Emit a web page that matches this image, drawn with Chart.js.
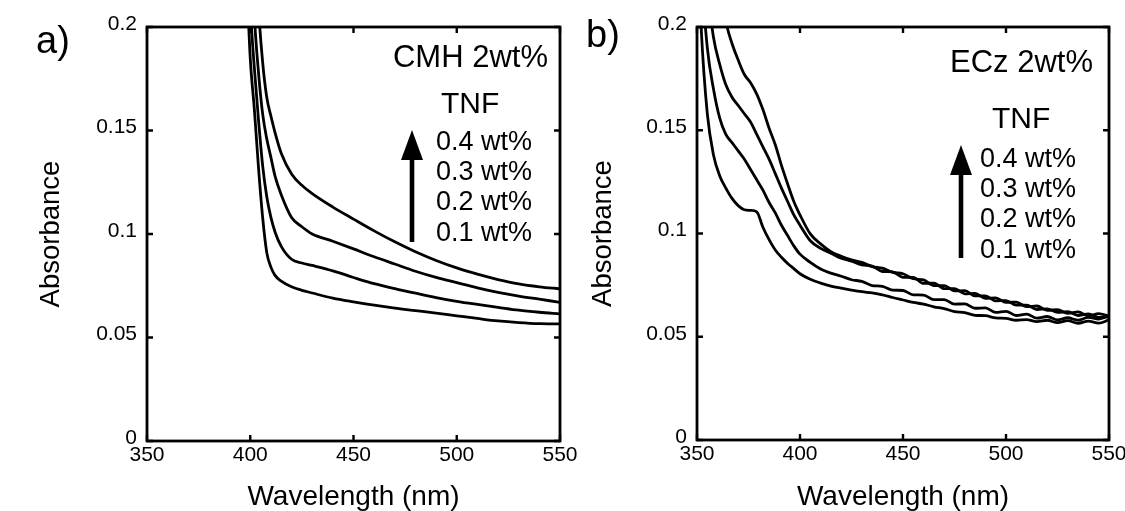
<!DOCTYPE html>
<html>
<head>
<meta charset="utf-8">
<script src="https://cdn.jsdelivr.net/npm/chart.js@4.4.1/dist/chart.umd.min.js"></script>
<style>
  html, body { margin: 0; padding: 0; background: #fff; }
  #wrap { position: relative; width: 1125px; height: 511px; }
  #wrap canvas { position: absolute; left: 0; top: 0; }
</style>
</head>
<body>
<div id="wrap">
  <canvas id="chartA" width="1125" height="511"></canvas>
  <canvas id="chartB" width="1125" height="511"></canvas>
</div>
<script>
// axis ticks
const xTicks = [350, 400, 450, 500, 550];
const yTicks = [0, 0.05, 0.1, 0.15, 0.2];
const yTickLabels = ['0', '0.05', '0.1', '0.15', '0.2'];
const tnfLabels = ['0.1 wt%', '0.2 wt%', '0.3 wt%', '0.4 wt%'];

// a) CMH 2wt% film
const cmhWavelength = [398, 400, 402, 404, 406, 408, 410, 412, 415, 420, 425, 430, 440, 450, 460, 470, 480, 490, 500, 510, 520, 530, 540, 550];
const cmh01 = [0.23, 0.185, 0.16, 0.132, 0.108, 0.091, 0.084, 0.080, 0.0772, 0.0745, 0.0728, 0.0715, 0.069, 0.0672, 0.0656, 0.0642, 0.063, 0.0618, 0.0605, 0.0592, 0.058, 0.0572, 0.0567, 0.0566];
const cmh02 = [0.26, 0.21, 0.18, 0.155, 0.133, 0.118, 0.108, 0.101, 0.094, 0.0878, 0.086, 0.0848, 0.0822, 0.079, 0.076, 0.0736, 0.0714, 0.0693, 0.0675, 0.066, 0.0646, 0.0632, 0.0622, 0.0614];
const cmh03 = [0.30, 0.25, 0.205, 0.178, 0.158, 0.146, 0.137, 0.128, 0.119, 0.108, 0.1035, 0.100, 0.0965, 0.0928, 0.089, 0.0855, 0.082, 0.079, 0.0765, 0.074, 0.0718, 0.070, 0.0685, 0.067];
const cmh04 = [0.40, 0.32, 0.26, 0.21, 0.183, 0.166, 0.157, 0.149, 0.139, 0.129, 0.1235, 0.1195, 0.113, 0.1072, 0.1015, 0.0962, 0.0914, 0.0872, 0.0836, 0.0806, 0.078, 0.0759, 0.0745, 0.0735];

// b) ECz 2wt% film
const eczWavelength = [350, 352, 355, 358, 361, 364, 367, 370, 373, 376, 379, 382, 385, 388, 391, 394, 397,
  400, 405, 410, 415, 420, 425, 430, 435, 440, 445, 450, 455, 460, 465, 470, 475, 480, 485, 490, 495, 500, 505, 510, 515, 520, 525, 530, 535, 540, 545, 550];
const ecz01 = [0.25, 0.20, 0.158, 0.138, 0.128, 0.122, 0.117, 0.1135, 0.1115, 0.1112, 0.1105, 0.103, 0.097, 0.092, 0.0885, 0.0855, 0.083,
  0.0805, 0.0778, 0.076, 0.0745, 0.0735, 0.0726, 0.0718, 0.0712, 0.0703, 0.069, 0.0678, 0.0666, 0.0658, 0.0645, 0.0636, 0.0622, 0.0617, 0.0604, 0.0602, 0.0591, 0.0589, 0.0580, 0.0583, 0.0573, 0.0580, 0.0568, 0.0578, 0.0565, 0.0576, 0.0566, 0.0582, 0.0585];
const ecz02 = [0.28, 0.23, 0.19, 0.170, 0.156, 0.148, 0.144, 0.140, 0.136, 0.131, 0.126, 0.121, 0.115, 0.110, 0.104, 0.099, 0.094,
  0.090, 0.086, 0.0828, 0.0808, 0.0793, 0.0776, 0.0768, 0.0748, 0.0744, 0.0726, 0.0724, 0.0703, 0.0702, 0.0680, 0.0680, 0.0658, 0.0659, 0.0638, 0.0640, 0.0618, 0.0623, 0.0603, 0.0610, 0.0590, 0.0598, 0.0582, 0.0592, 0.0580, 0.0594, 0.0586, 0.060];
const ecz03 = [0.30, 0.26, 0.22, 0.195, 0.182, 0.172, 0.166, 0.162, 0.158, 0.154, 0.148, 0.142, 0.136, 0.129, 0.122, 0.1155, 0.109,
  0.104, 0.0965, 0.0928, 0.0905, 0.088, 0.0866, 0.0848, 0.0842, 0.0816, 0.0814, 0.0788, 0.0787, 0.0758, 0.0760, 0.0733, 0.0733, 0.0708, 0.0710, 0.0686, 0.0688, 0.0666, 0.0668, 0.0646, 0.0649, 0.0628, 0.0631, 0.0613, 0.0620, 0.0601, 0.0612, 0.060];
const ecz04 = [0.36, 0.33, 0.29, 0.255, 0.225, 0.203, 0.192, 0.184, 0.177, 0.173, 0.1675, 0.160, 0.151, 0.143, 0.133, 0.124, 0.1155,
  0.109, 0.0998, 0.095, 0.0912, 0.089, 0.0872, 0.086, 0.0840, 0.0832, 0.0812, 0.0805, 0.0781, 0.0775, 0.0748, 0.0748, 0.0722, 0.0723, 0.0698, 0.0698, 0.0674, 0.0675, 0.0653, 0.0653, 0.0632, 0.0635, 0.0618, 0.0621, 0.0603, 0.0611, 0.0594, 0.0598];

Chart.defaults.font.family = "'Liberation Sans', Arial, Helvetica, sans-serif";
Chart.defaults.color = '#000';

// box round the plot with inward ticks on all four sides
const frame = {
  id: 'frame',
  afterDatasetsDraw(chart) {
    const { ctx, chartArea: a, scales: { x, y } } = chart;
    ctx.save();
    ctx.strokeStyle = '#000';
    ctx.lineWidth = 2.8;
    ctx.strokeRect(a.left, a.top, a.right - a.left, a.bottom - a.top);
    ctx.lineWidth = 2.4;
    ctx.beginPath();
    x.ticks.forEach(t => {
      const px = x.getPixelForValue(t.value);
      ctx.moveTo(px, a.bottom); ctx.lineTo(px, a.bottom - 6);
      ctx.moveTo(px, a.top); ctx.lineTo(px, a.top + 6);
    });
    y.ticks.forEach(t => {
      const py = y.getPixelForValue(t.value);
      ctx.moveTo(a.left, py); ctx.lineTo(a.left + 6, py);
      ctx.moveTo(a.right, py); ctx.lineTo(a.right - 6, py);
    });
    ctx.stroke();
    ctx.restore();
  }
};

// panel letter, sample name and the TNF arrow
const notes = {
  id: 'notes',
  afterDatasetsDraw(chart, args, o) {
    const ctx = chart.ctx;
    ctx.save();
    ctx.fillStyle = '#000';
    ctx.textBaseline = 'alphabetic';
    const fam = Chart.defaults.font.family;

    ctx.font = '38px ' + fam;
    ctx.textAlign = 'left';
    ctx.fillText(o.panel, o.panelX, o.panelY);

    ctx.font = '31px ' + fam;
    ctx.textAlign = 'right';
    ctx.fillText(o.sample, o.sampleX, o.sampleY);

    ctx.font = '30px ' + fam;
    ctx.textAlign = 'left';
    ctx.fillText('TNF', o.tnfX, o.tnfY);

    ctx.font = '27px ' + fam;
    tnfLabels.slice().reverse().forEach((t, i) => ctx.fillText(t, o.listX, o.listY[i]));

    // arrow
    ctx.fillRect(o.arrowX - 2.3, o.arrowHead - 1, 4.6, o.arrowBottom - o.arrowHead + 1);
    ctx.beginPath();
    ctx.moveTo(o.arrowX, o.arrowTop);
    ctx.lineTo(o.arrowX - 11, o.arrowHead);
    ctx.lineTo(o.arrowX + 11, o.arrowHead);
    ctx.closePath();
    ctx.fill();
    ctx.restore();
  }
};

function makeChart(id, wavelengths, series, pad, yWidth, xHeight, noteOpts) {
  return new Chart(document.getElementById(id), {
    type: 'line',
    data: {
      datasets: series.map((vals, i) => ({
        label: tnfLabels[i],
        data: wavelengths.map((w, j) => ({ x: w, y: vals[j] })),
        borderColor: '#000',
        borderWidth: 2.8,
        pointRadius: 0,
        fill: false,
        cubicInterpolationMode: 'monotone'
      }))
    },
    options: {
      responsive: false,
      animation: false,
      devicePixelRatio: 1,
      layout: { padding: pad },
      plugins: {
        legend: { display: false },
        tooltip: { enabled: false },
        notes: noteOpts
      },
      scales: {
        x: {
          type: 'linear',
          min: 350,
          max: 550,
          afterBuildTicks: s => { s.ticks = xTicks.map(v => ({ value: v })); },
          afterFit: s => { s.height = xHeight; s.paddingLeft = 0; s.paddingRight = 0; },
          grid: { display: false, drawTicks: false },
          border: { display: false },
          ticks: { padding: 2, font: { size: 21 }, maxRotation: 0, autoSkip: false, callback: v => String(v) },
          title: { display: true, text: 'Wavelength (nm)', font: { size: 28, lineHeight: 1 }, padding: 0 }
        },
        y: {
          type: 'linear',
          min: 0,
          max: 0.2,
          afterBuildTicks: s => { s.ticks = yTicks.map(v => ({ value: v })); },
          afterFit: s => { s.width = yWidth; s.paddingTop = 0; s.paddingBottom = 0; },
          grid: { display: false, drawTicks: false },
          border: { display: false },
          ticks: {
            padding: 10,
            labelOffset: -3,
            font: { size: 21 },
            autoSkip: false,
            callback: v => yTickLabels[yTicks.indexOf(v)]
          },
          title: { display: true, text: 'Absorbance', font: { size: 27.5, lineHeight: 1 }, padding: { top: 18, bottom: 0 } }
        }
      }
    },
    plugins: [frame, notes]
  });
}

makeChart('chartA', cmhWavelength, [cmh01, cmh02, cmh03, cmh04],
  { left: 20, top: 27, right: 565, bottom: 0 }, 127, 70,
  { panel: 'a)', panelX: 36, panelY: 53, sample: 'CMH 2wt%', sampleX: 548, sampleY: 67,
    tnfX: 441, tnfY: 113, listX: 436, listY: [150, 180, 210, 241],
    arrowX: 412, arrowTop: 130, arrowHead: 160, arrowBottom: 242 });

makeChart('chartB', eczWavelength, [ecz01, ecz02, ecz03, ecz04],
  { left: 572, top: 27, right: 16, bottom: 0 }, 125, 71,
  { panel: 'b)', panelX: 586, panelY: 47, sample: 'ECz 2wt%', sampleX: 1093, sampleY: 72,
    tnfX: 992, tnfY: 128, listX: 980, listY: [167, 197, 227, 258],
    arrowX: 961, arrowTop: 145, arrowHead: 175, arrowBottom: 258 });
</script>
</body>
</html>
